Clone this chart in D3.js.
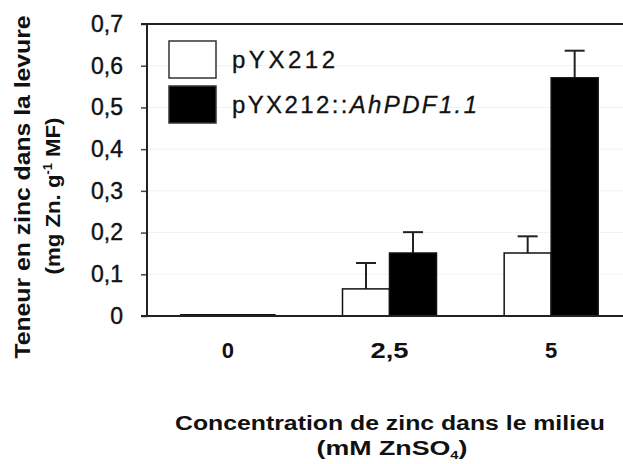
<!DOCTYPE html>
<html lang="fr">
<head>
<meta charset="UTF-8">
<title>Teneur en zinc</title>
<script src="https://cdnjs.cloudflare.com/ajax/libs/d3/7.8.5/d3.min.js"></script>
<style>
  body { margin: 0; background: #fff; }
  text { font-family: "Liberation Sans", Arial, sans-serif; fill: #111; }
</style>
</head>
<body>
<div id="chart"></div>
<script>
// données
const concentrations = ["0", "2,5", "5"];
const series = ["pYX212", "pYX212::AhPDF1.1"];
const vide = [0.003, 0.065, 0.151];        // pYX212
const videErr = [0, 0.062, 0.04];
const pdf = [0.003, 0.151, 0.571];         // pYX212::AhPDF1.1
const pdfErr = [0, 0.05, 0.065];
const yTicks = [0, 0.1, 0.2, 0.3, 0.4, 0.5, 0.6, 0.7];

const width = 623, height = 464;
const mLeft = 147, mRight = 632, mTop = 24, mBottom = 316;

const svg = d3.select("#chart").append("svg")
    .attr("width", width).attr("height", height);

const x0 = d3.scaleBand().domain(concentrations).range([mLeft, mRight]);
const x1 = d3.scaleBand().domain(series).range([0, x0.bandwidth()])
    .paddingInner(0).paddingOuter(0.72);
const y = d3.scaleLinear().domain([0, 0.7]).range([mBottom, mTop]);

// étire un texte sur la longueur mesurée
function fit(sel, len, glyphs) {
    sel.attr("textLength", len).attr("lengthAdjust", glyphs ? "spacingAndGlyphs" : "spacing");
}

// grille légère
svg.append("g").selectAll("line")
    .data(yTicks.slice(1, -1)).join("line")
    .attr("x1", mLeft).attr("x2", width)
    .attr("y1", d => y(d)).attr("y2", d => y(d))
    .attr("stroke", "#f2f2f2");

const rows = concentrations.map((c, i) => [
    { c, s: series[0], v: vide[i], e: videErr[i], fill: "#fff" },
    { c, s: series[1], v: pdf[i], e: pdfErr[i], fill: "#000" }
]).flat();

// barres d'erreur (vers le haut seulement)
const err = svg.append("g").attr("stroke", "#222").attr("stroke-width", 2);
rows.filter(d => d.e > 0).forEach(d => {
    const cx = x0(d.c) + x1(d.s) + x1.bandwidth() / 2;
    err.append("line").attr("x1", cx).attr("x2", cx)
        .attr("y1", y(d.v)).attr("y2", y(d.v + d.e));
    err.append("line").attr("x1", cx - 10).attr("x2", cx + 10)
        .attr("y1", y(d.v + d.e)).attr("y2", y(d.v + d.e));
});

// barres
svg.append("g").selectAll("rect")
    .data(rows).join("rect")
    .attr("x", d => x0(d.c) + x1(d.s))
    .attr("width", x1.bandwidth())
    .attr("y", d => y(d.v))
    .attr("height", d => y(0) - y(d.v))
    .attr("fill", d => d.fill)
    .attr("stroke", "#111").attr("stroke-width", 1.5);

// axe y
const fmt = d => d === 0 ? "0" : d3.format(".1f")(d).replace(".", ",");
const yAxis = svg.append("g")
    .attr("transform", `translate(${mLeft},0)`)
    .call(d3.axisLeft(y).tickValues(yTicks).tickSize(6).tickPadding(18).tickFormat(fmt));
yAxis.select(".domain").remove();
yAxis.selectAll("line").attr("stroke", "#444").attr("stroke-width", 1.5);
yAxis.selectAll("text").attr("font-size", 23)
    .attr("font-family", "Liberation Sans, Arial, sans-serif").attr("fill", "#111")
    .attr("stroke", "#111").attr("stroke-width", 0.4);

// cadre : axe gauche, haut, bas
svg.append("line").attr("x1", mLeft).attr("x2", mLeft).attr("y1", mTop).attr("y2", mBottom)
    .attr("stroke", "#222").attr("stroke-width", 2);
svg.append("line").attr("x1", mLeft - 6).attr("x2", width).attr("y1", mTop).attr("y2", mTop)
    .attr("stroke", "#222").attr("stroke-width", 2);
svg.append("line").attr("x1", mLeft - 6).attr("x2", width).attr("y1", mBottom).attr("y2", mBottom)
    .attr("stroke", "#222").attr("stroke-width", 2);

// étiquettes x
svg.append("g").selectAll("text")
    .data(concentrations).join("text")
    .attr("x", d => x0(d) + x0.bandwidth() / 2)
    .attr("y", 358)
    .attr("text-anchor", "middle")
    .attr("font-size", 22).attr("font-weight", "bold")
    .each(function (d) { if (d.length > 1) fit(d3.select(this), 38, true); })
    .text(d => d);

// légende
const legend = svg.append("g");
const legendLen = [103, 245];
series.forEach((s, i) => {
    const ly = 41 + i * 45;
    legend.append("rect").attr("x", 169).attr("y", ly).attr("width", 47).attr("height", 37)
        .attr("fill", i === 0 ? "#fff" : "#000").attr("stroke", "#333").attr("stroke-width", 1.5);
    const t = legend.append("text").attr("x", 232).attr("y", ly + 27).attr("font-size", 24)
        .attr("stroke", "#111").attr("stroke-width", 0.3);
    fit(t, legendLen[i], false);
    if (i === 0) {
        t.text(s);
    } else {
        const [a, b] = s.split("::");
        t.append("tspan").text(a + "::");
        t.append("tspan").attr("font-style", "italic").text(b);
    }
});

// titre axe y
const yt = svg.append("g").attr("transform", "translate(0,187) rotate(-90)");
const yt1 = yt.append("text").attr("x", 0).attr("y", 30).attr("text-anchor", "middle")
    .attr("font-size", 22).attr("font-weight", "bold")
    .text("Teneur en zinc dans la levure");
fit(yt1, 343, true);
const yt2 = yt.append("text").attr("x", -9).attr("y", 60).attr("text-anchor", "middle")
    .attr("font-size", 21).attr("font-weight", "bold");
yt2.append("tspan").text("(mg Zn. g");
yt2.append("tspan").attr("font-size", 12).attr("dy", -8).text("-1");
yt2.append("tspan").attr("dy", 8).text(" MF)");
fit(yt2, 157, true);

// titre axe x
const xt1 = svg.append("text").attr("x", 390).attr("y", 430).attr("text-anchor", "middle")
    .attr("font-size", 20).attr("font-weight", "bold")
    .text("Concentration de zinc dans le milieu");
fit(xt1, 430, true);
const xt2 = svg.append("text").attr("x", 392).attr("y", 455).attr("text-anchor", "middle")
    .attr("font-size", 20).attr("font-weight", "bold");
xt2.append("tspan").text("(mM ZnSO");
xt2.append("tspan").attr("font-size", 11).attr("dy", 4).text("4");
xt2.append("tspan").attr("dy", -4).text(")");
fit(xt2, 151, true);
</script>
</body>
</html>
